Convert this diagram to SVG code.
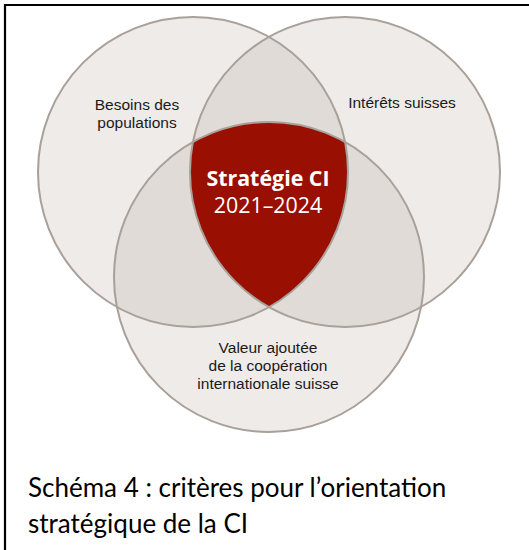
<svg xmlns="http://www.w3.org/2000/svg" width="529" height="550" viewBox="0 0 529 550">
<style>
.base{fill:#efebe8}
.pair{fill:#e0dbd7}
.core{fill:#990f02}
.ring{fill:none;stroke:#a8a099;stroke-width:2}
.lbl{font-family:"Liberation Sans",Arial,sans-serif;font-size:15.5px;fill:#1a1a1a;text-anchor:middle}
.mid{font-family:"Open Sans","Noto Sans",sans-serif;font-size:21.4px;fill:#fff;text-anchor:middle}
.cap{font-family:Lato,"Liberation Sans",sans-serif;font-size:26px;fill:#000}
</style>
<defs>
<clipPath id="cL"><circle cx="193" cy="172" r="155"/></clipPath>
<clipPath id="cR"><circle cx="345" cy="172" r="155"/></clipPath>
</defs>
<rect width="529" height="550" fill="#fff"/>
<g id="frame" stroke="#000" stroke-width="2.2" fill="none">
<path d="M5 550 V5 H529"/>
</g>
<g id="fills">
<circle class="base" cx="193" cy="172" r="155"/>
<circle class="base" cx="345" cy="172" r="155"/>
<circle class="base" cx="269" cy="277" r="155"/>
<g clip-path="url(#cL)"><circle class="pair" cx="345" cy="172" r="155"/><circle class="pair" cx="269" cy="277" r="155"/></g>
<g clip-path="url(#cR)"><circle class="pair" cx="269" cy="277" r="155"/></g>
<g clip-path="url(#cL)"><g clip-path="url(#cR)"><circle class="core" cx="269" cy="277" r="155"/></g></g>
</g>
<g id="node-besoins">
<circle class="ring" cx="193" cy="172" r="155"/>
<text class="lbl" x="137" y="110">Besoins des</text>
<text class="lbl" x="137" y="128">populations</text>
</g>
<g id="node-interets">
<circle class="ring" cx="345" cy="172" r="155"/>
<text class="lbl" x="402" y="108">Intérêts suisses</text>
</g>
<g id="node-valeur">
<circle class="ring" cx="269" cy="277" r="155"/>
<text class="lbl" x="268" y="353">Valeur ajoutée</text>
<text class="lbl" x="268" y="371">de la coopération</text>
<text class="lbl" x="268" y="389">internationale suisse</text>
</g>
<g id="node-strategie">
<text class="mid" x="268" y="186" font-weight="bold">Stratégie CI</text>
<text class="mid" x="268" y="213">2021–2024</text>
</g>
<g id="caption">
<text class="cap" x="28" y="497">Schéma 4 : critères pour l’orientation</text>
<text class="cap" x="28" y="533">stratégique de la CI</text>
</g>
</svg>
